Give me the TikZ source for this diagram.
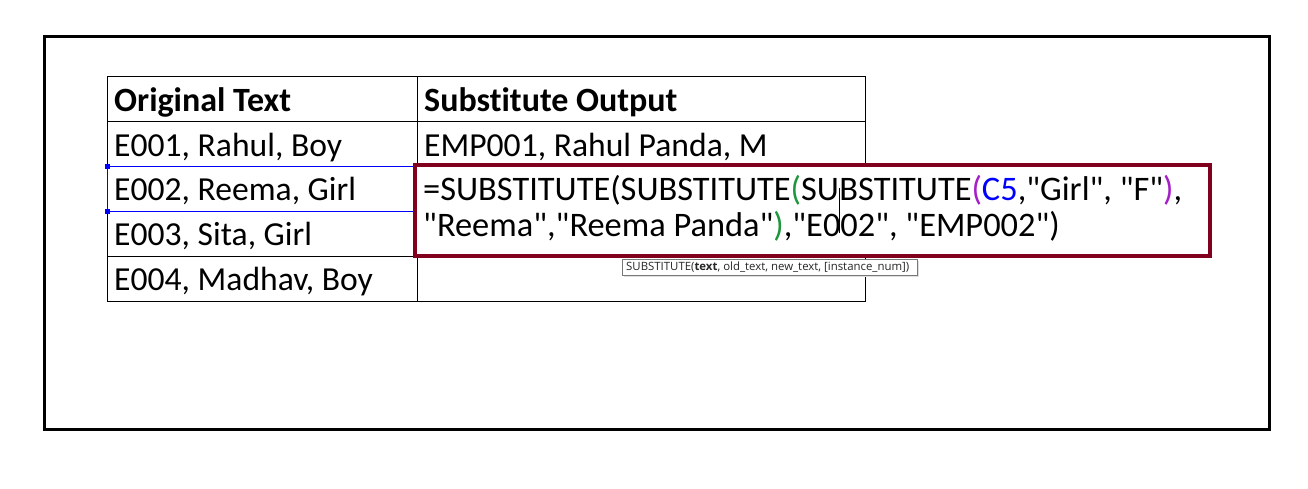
\documentclass[tikz,border=0pt]{standalone}
\usepackage{fontspec}
\setmainfont{Carlito}[Ligatures={TeXOff,CommonOff}]
\newfontfamily\tipfont{Open Sans}[Ligatures=TeXOff]
\usetikzlibrary{positioning}
\definecolor{boxred}{RGB}{128,0,30}
\definecolor{pgreen}{RGB}{30,150,60}
\definecolor{ppurple}{RGB}{165,30,200}
\definecolor{tipgray}{RGB}{120,120,120}

\begin{document}
\begin{tikzpicture}[x=1pt,y=-1pt,
		celltxt/.style={anchor=base west, inner sep=0pt, font=\fontsize{33.6}{38}\selectfont},
		cellhead/.style={celltxt, font=\fontsize{34}{38}\selectfont\bfseries},
		formtxt/.style={celltxt, font=\fontsize{34.4}{38}\selectfont},
		grid/.style={draw=black, line width=1pt},
		tiptxt/.style={inner sep=0pt, font=\tipfont\fontsize{11.4}{13}\selectfont, text=black!85}
		]
		\useasboundingbox (0,0) rectangle (1308,488);
		
		% Le cadre
		\draw[line width=3pt] (44.5,36) rectangle (1269.5,429);
		
		% Le tableau
		\draw[grid] (107,76) rectangle (865,301);
		\foreach \y in {121,166,211,256}
		\draw[grid] (107,\y) -- (865,\y);
		\draw[grid] (417,76) -- (417,301);
		
		% La cellule choisie
		\draw[blue, line width=1pt] (107,166) rectangle (417,211);
		\fill[blue] (104.5,163.5) rectangle (109.5,168.5);
		\fill[blue] (104.5,208.5) rectangle (109.5,213.5);
		
		% Les textes
		\node[cellhead] (h1) at (114,111) {Original Text};
		\node[cellhead] (h2) at (424,111) {Substitute Output};
		\node[celltxt] (a1) at (114,156) {E001, Rahul, Boy};
		\node[celltxt] (a2) at (114,200) {E002, Reema, Girl};
		\node[celltxt] (a3) at (114,245) {E003, Sita, Girl};
		\node[celltxt] (a4) at (114,290) {E004, Madhav, Boy};
		\node[celltxt] (b1) at (424,156) {EMP001, Rahul Panda, M};
		
		% La formule
		\draw[boxred, line width=4pt, fill=white] (415,164.5) rectangle (1209.5,256);
		\node[formtxt] (f1) at (423,200) {=SUBSTITUTE(SUBSTITUTE\textcolor{pgreen}{(}SU};
		\node[formtxt, right=0pt of f1.base east, anchor=base west] (f2) {BSTITUTE\textcolor{ppurple}{(}\textcolor{blue}{C5},"Girl", "F"\textcolor{ppurple}{)},};
		\node[formtxt] (f3) at (423,236) {"Reema","Reema Panda"\textcolor{pgreen}{)},"E002", "EMP002")};
		\draw[line width=0.8pt] ([yshift=-33pt]f1.base east) -- ([yshift=12pt]f1.base east);
		
		% L'info-bulle
		\fill[black!12] (624,261) rectangle (919,277);
		\draw[tipgray, fill=white, line width=0.8pt] (622,259) rectangle (917,275);
		\node[tiptxt, anchor=west] (tip) at (626,267) {SUBSTITUTE(\textbf{text}, old\_text, new\_text, [instance\_num])};
	\end{tikzpicture}
\end{document}
